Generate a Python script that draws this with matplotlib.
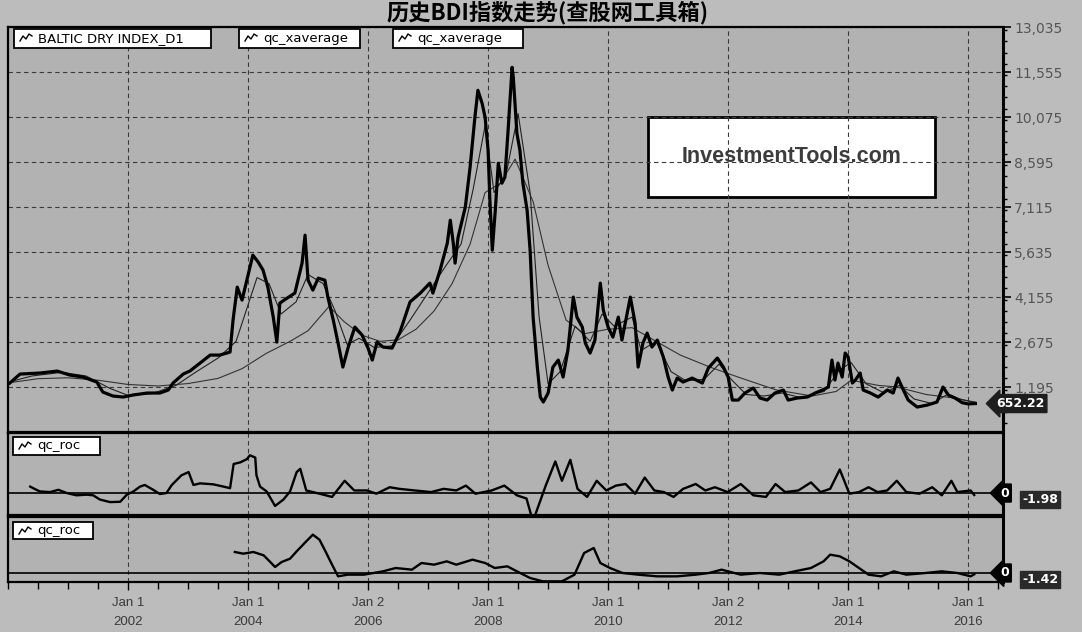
import matplotlib
matplotlib.use("Agg")
import matplotlib.pyplot as plt
import matplotlib.transforms as mtransforms
from matplotlib.patches import Rectangle
from matplotlib.lines import Line2D
from matplotlib.ticker import FuncFormatter, MultipleLocator

plt.rcParams['font.family'] = ['DejaVu Sans']

# Baltic Dry Index (decimal year, index value)
bdi_t = [2000.03, 2000.2, 2000.53, 2000.82, 2001.03, 2001.25, 2001.48, 2001.58, 2001.75, 2001.92,
         2002.08, 2002.32, 2002.53, 2002.67, 2002.75, 2002.92, 2003.03, 2003.2, 2003.37, 2003.53,
         2003.7, 2003.75, 2003.82, 2003.9, 2003.98, 2004.08, 2004.17, 2004.25, 2004.33, 2004.42,
         2004.48, 2004.53, 2004.65, 2004.78, 2004.9, 2004.95, 2005.0, 2005.08, 2005.17, 2005.28,
         2005.33, 2005.42, 2005.5, 2005.58, 2005.67, 2005.78, 2005.9, 2006.0, 2006.07, 2006.15,
         2006.25, 2006.4, 2006.53, 2006.7, 2006.87, 2007.03, 2007.08, 2007.2, 2007.32, 2007.37,
         2007.42, 2007.45, 2007.5, 2007.62, 2007.7, 2007.78, 2007.83, 2007.9, 2007.95, 2008.0,
         2008.03, 2008.07, 2008.12, 2008.17, 2008.23, 2008.28, 2008.33, 2008.4, 2008.42, 2008.48,
         2008.53, 2008.58, 2008.65, 2008.7, 2008.75, 2008.82, 2008.87, 2008.92, 2009.0, 2009.08,
         2009.17, 2009.25, 2009.33, 2009.42, 2009.48, 2009.57, 2009.62, 2009.7, 2009.78, 2009.87,
         2009.92, 2010.0, 2010.08, 2010.17, 2010.23, 2010.37, 2010.45, 2010.5, 2010.58, 2010.65,
         2010.73, 2010.82, 2010.92, 2011.0, 2011.07, 2011.15, 2011.25, 2011.4, 2011.57, 2011.67,
         2011.82, 2011.92, 2012.0, 2012.07, 2012.17, 2012.28, 2012.42, 2012.53, 2012.65, 2012.78,
         2012.92, 2013.0, 2013.15, 2013.32, 2013.45, 2013.57, 2013.67, 2013.73, 2013.78, 2013.83,
         2013.9, 2013.95, 2014.0, 2014.07, 2014.12, 2014.2, 2014.25, 2014.37, 2014.5, 2014.65,
         2014.75, 2014.83, 2014.92, 2015.0, 2015.15, 2015.32, 2015.48, 2015.58, 2015.67, 2015.78,
         2015.9, 2016.0, 2016.12]
bdi_v = [1327, 1623, 1656, 1721, 1590, 1524, 1360, 1030, 899, 866,
         932, 998, 998, 1096, 1327, 1623, 1721, 1985, 2248, 2248,
         2347, 3400, 4485, 4057, 4715, 5538, 5307, 5044, 4485, 3498,
         2675, 3959, 4123, 4288, 5275, 6196, 4715, 4386, 4781, 4715,
         4156, 3400, 2643, 1853, 2511, 3169, 2906, 2478, 2083, 2675,
         2511, 2478, 3000, 4000, 4288, 4617, 4288, 5044, 5933, 6689,
         5933, 5275, 6130, 7117, 8433, 10078, 10966, 10538, 10078, 8992,
         7347, 5702, 7018, 8564, 7907, 8104, 9552, 11723, 11394, 9552,
         8992, 7907, 7018, 5702, 3498, 1853, 866, 702, 998, 1853,
         2083, 1524, 2412, 4156, 3498, 3169, 2643, 2314, 2741, 4617,
         3728, 3169, 2840, 3498, 2741, 4156, 3300, 1853, 2643, 2972,
         2511, 2741, 2182, 1524, 1096, 1491, 1360, 1491, 1327, 1820,
         2149, 1853, 1524, 767, 767, 998, 1162, 833, 767, 998,
         1096, 767, 833, 866, 998, 1096, 1195, 2083, 1425, 1985,
         1524, 2314, 2182, 1327, 1425, 1656, 1096, 998, 866, 1096,
         998, 1491, 1096, 767, 537, 603, 702, 1195, 932, 833,
         680, 640, 652]

# faster qc_xaverage
fast_t = [2000.0, 2000.4, 2000.9, 2001.3, 2001.7, 2002.0, 2002.4, 2002.8, 2003.1, 2003.5,
          2003.8, 2004.0, 2004.15, 2004.35, 2004.55, 2004.8, 2005.0, 2005.25, 2005.45, 2005.65,
          2005.85, 2006.1, 2006.4, 2006.7, 2007.0, 2007.3, 2007.55, 2007.75, 2007.95, 2008.1,
          2008.3, 2008.5, 2008.7, 2008.85, 2009.0, 2009.2, 2009.45, 2009.7, 2009.9, 2010.1,
          2010.4, 2010.55, 2010.8, 2011.05, 2011.3, 2011.6, 2011.85, 2012.05, 2012.3, 2012.6,
          2012.9, 2013.2, 2013.6, 2013.85, 2014.05, 2014.3, 2014.6, 2014.85, 2015.1, 2015.4,
          2015.65, 2015.9, 2016.12]
fast_v = [1350, 1560, 1680, 1560, 1150, 920, 980, 1250, 1650, 2150,
          2700, 3900, 4800, 4600, 3600, 4000, 4900, 4600, 3700, 2600,
          2800, 2500, 2550, 3400, 4300, 5200, 5900, 7700, 9800, 7600,
          8200, 10200, 7600, 3500, 1300, 1700, 3200, 2700, 3600, 3200,
          3500, 2400, 2700, 1700, 1400, 1450, 1950, 1450, 950, 900,
          1000, 850, 1050, 1750, 2000, 1300, 1000, 1250, 800, 650,
          950, 780, 680]

# slower qc_xaverage
slow_t = [2000.0, 2000.5, 2001.0, 2001.5, 2002.0, 2002.5, 2003.0, 2003.5, 2003.9, 2004.3,
          2004.7, 2005.0, 2005.35, 2005.6, 2005.9, 2006.2, 2006.5, 2006.8, 2007.1, 2007.4,
          2007.7, 2007.95, 2008.2, 2008.45, 2008.75, 2009.0, 2009.3, 2009.6, 2010.0, 2010.4,
          2010.8, 2011.2, 2011.7, 2012.2, 2012.8, 2013.4, 2013.8, 2014.05, 2014.5, 2014.8,
          2015.3, 2015.7, 2016.12]
slow_v = [1330, 1470, 1500, 1420, 1280, 1230, 1310, 1480, 1800, 2300,
          2700, 3050, 3850, 3350, 2900, 2700, 2750, 3100, 3700, 4600,
          5900, 7600, 7900, 8700, 7300, 5200, 3400, 2950, 3100, 3150,
          2700, 2250, 1850, 1500, 1100, 900, 1050, 1420, 1250, 1200,
          950, 850, 700]

# qc_roc (short)
roc1_t = [2000.37, 2000.42, 2000.53, 2000.70, 2000.84, 2000.98, 2001.14, 2001.31, 2001.42, 2001.53,
          2001.70, 2001.87, 2001.98, 2002.09, 2002.20, 2002.28, 2002.42, 2002.53, 2002.64, 2002.73,
          2002.89, 2003.01, 2003.09, 2003.20, 2003.42, 2003.59, 2003.70, 2003.76, 2003.87, 2003.98,
          2004.03, 2004.12, 2004.14, 2004.20, 2004.31, 2004.45, 2004.59, 2004.70, 2004.81, 2004.87,
          2004.97, 2005.19, 2005.40, 2005.61, 2005.77, 2005.98, 2006.14, 2006.36, 2006.52, 2006.78,
          2007.05, 2007.26, 2007.47, 2007.63, 2007.79, 2008.06, 2008.27, 2008.48, 2008.64, 2008.75,
          2008.80, 2008.96, 2009.12, 2009.23, 2009.37, 2009.49, 2009.65, 2009.81, 2009.97, 2010.13,
          2010.29, 2010.45, 2010.61, 2010.77, 2010.93, 2011.09, 2011.25, 2011.46, 2011.62, 2011.78,
          2011.99, 2012.21, 2012.42, 2012.63, 2012.79, 2012.95, 2013.17, 2013.38, 2013.54, 2013.70,
          2013.86, 2014.02, 2014.18, 2014.34, 2014.49, 2014.65, 2014.81, 2014.97, 2015.19, 2015.40,
          2015.56, 2015.72, 2015.82, 2016.04, 2016.10]
roc1_v = [20, 15, 5, 3, 10, 0, -7, -5, -7, -20,
          -28, -27, -5, 5, 20, 25, 10, -3, 0, 25,
          55, 65, 25, 30, 27, 20, 15, 90, 95, 105,
          117, 110, 55, 20, 5, -40, -20, 5, 65, 75,
          8, -2, -12, 38, 8, 8, -2, 18, 13, 8,
          3, 13, 8, 23, -2, 8, 23, -7, -17, -90,
          -60, 23, 98, 38, 103, 13, -12, 38, 8, 23,
          28, -2, 48, 8, 3, -12, 13, 28, 8, 18,
          3, 28, -7, -12, 28, 3, 8, 33, 3, 13,
          73, -2, 3, 18, 3, 8, 38, 3, -2, 18,
          -7, 38, 3, 8, -6]

# qc_roc (long)
roc2_t = [2003.78, 2003.92, 2004.09, 2004.26, 2004.37, 2004.45, 2004.56, 2004.70, 2004.81, 2004.97,
          2005.08, 2005.19, 2005.29, 2005.40, 2005.50, 2005.66, 2005.93, 2006.25, 2006.46, 2006.73,
          2006.89, 2007.10, 2007.31, 2007.47, 2007.74, 2007.95, 2008.11, 2008.32, 2008.48, 2008.70,
          2008.91, 2009.23, 2009.44, 2009.60, 2009.76, 2009.87, 2010.03, 2010.24, 2010.50, 2010.82,
          2011.15, 2011.46, 2011.68, 2011.89, 2012.21, 2012.53, 2012.85, 2013.11, 2013.38, 2013.59,
          2013.70, 2013.86, 2014.02, 2014.18, 2014.34, 2014.55, 2014.76, 2014.97, 2015.29, 2015.56,
          2015.82, 2016.04, 2016.10]
roc2_v = [63, 58, 63, 53, 33, 18, 33, 43, 65, 95,
          115, 100, 65, 25, -10, -5, -5, 5, 15, 10,
          30, 25, 35, 25, 40, 30, 15, 20, 5, -15,
          -25, -25, -5, 60, 75, 30, 15, 0, -5, -10,
          -10, -5, 0, 10, -5, 0, -5, 5, 15, 35,
          55, 50, 35, 15, -5, -10, 5, -5, 0, 5,
          0, -10, -4]

year_ticks = [2002, 2004, 2006, 2008, 2010, 2012, 2014, 2016]
year_labels = ['Jan 1\n2002', 'Jan 1\n2004', 'Jan 2\n2006', 'Jan 1\n2008',
               'Jan 1\n2010', 'Jan 2\n2012', 'Jan 1\n2014', 'Jan 1\n2016']
price_ticks = [1195, 2675, 4155, 5635, 7115, 8595, 10075, 11555, 13035]

W, H = 1082, 632
bg = '#bcbcbc'
panel_bg = '#b2b2b2'
fig = plt.figure(figsize=(W / 100, H / 100), dpi=100, facecolor=bg)


def px_box(x0, y0, x1, y1):
    # pixel box (top-left origin) -> figure fraction rect
    return [x0 / W, 1 - y1 / H, (x1 - x0) / W, (y1 - y0) / H]


ax1 = fig.add_axes(px_box(8, 27, 1003, 432))
ax2 = fig.add_axes(px_box(8, 433, 1003, 515), sharex=ax1)
ax3 = fig.add_axes(px_box(8, 517, 1003, 582), sharex=ax1)

for ax in (ax1, ax2, ax3):
    ax.set_facecolor(panel_bg)
    ax.set_axisbelow('line')
    for s in ax.spines.values():
        s.set_linewidth(1.6)
    ax.spines['right'].set_linewidth(2.2)
    ax.set_xticks(year_ticks)
    ax.xaxis.grid(True, color='#3a3a3a', linestyle=(0, (4, 3)), linewidth=0.8)
    ax.xaxis.set_minor_locator(MultipleLocator(0.5))

ax1.set_xlim(2000.0, 2016.58)

# main panel
ax1.plot(slow_t, slow_v, color='#333333', linewidth=0.8, zorder=3)
ax1.plot(fast_t, fast_v, color='#222222', linewidth=0.8, zorder=3)
ax1.plot(bdi_t, bdi_v, color='black', linewidth=2.3, zorder=4)
ax1.set_ylim(-285, 13050)
ax1.set_yticks(price_ticks)
ax1.yaxis.set_minor_locator(MultipleLocator(370))
ax1.yaxis.tick_right()
ax1.yaxis.set_major_formatter(FuncFormatter(lambda v, p: f'{int(v):,}'))
ax1.tick_params(axis='y', which='major', direction='out', length=6, width=1.2,
                labelsize=10, labelcolor='#555555', pad=2)
ax1.tick_params(axis='y', which='minor', direction='out', length=3, width=1)
ax1.yaxis.grid(True, color='#3a3a3a', linestyle=(0, (4, 3)), linewidth=0.8)
ax1.tick_params(axis='x', which='both', bottom=False, labelbottom=False)

# watermark box (grid runs over it)
x0, y0 = (648 - 8) / 995, 1 - (197 - 27) / 405
ax1.add_patch(Rectangle((x0, y0), (935 - 648) / 995, (197 - 117) / 405,
                        transform=ax1.transAxes, facecolor='white', edgecolor='black',
                        linewidth=2, zorder=1))
ax1.text(x0 + (935 - 648) / 995 / 2, y0 + (197 - 117) / 405 / 2, 'InvestmentTools.com',
         transform=ax1.transAxes, ha='center', va='center', fontsize=15.5,
         fontweight='bold', color='#3c3c3c', zorder=1.2,
         family=['Liberation Sans', 'DejaVu Sans'])

# roc panels
for ax, t, v, lo, hi in ((ax2, roc1_t, roc1_v, -68, 186), (ax3, roc2_t, roc2_v, -27, 168)):
    ax.plot(t, v, color='black', linewidth=1.7, zorder=4)
    ax.axhline(0, color='black', linewidth=1.2, zorder=3)
    ax.set_ylim(lo, hi)
    ax.set_yticks([])
    ax.tick_params(axis='y', which='both', right=False, left=False)

ax2.tick_params(axis='x', which='both', bottom=False, labelbottom=False)
ax3.set_xticklabels(year_labels)
ax3.tick_params(axis='x', which='major', direction='out', length=6, width=1,
                labelsize=9.5, labelcolor='#3a3a3a', pad=5)
ax3.tick_params(axis='x', which='minor', direction='out', length=5, width=1)
for lbl in ax3.get_xticklabels():
    lbl.set_linespacing(1.7)
    lbl.set_family(['Liberation Sans', 'DejaVu Sans'])

# right side value flags
tr1 = mtransforms.blended_transform_factory(ax1.transAxes, ax1.transData)
ax1.text(0.993, 652, '652.22', transform=tr1, ha='left', va='center', fontsize=9,
         fontweight='bold', color='white', zorder=6, clip_on=False,
         bbox=dict(boxstyle='larrow,pad=0.2', facecolor='#1e1e1e', edgecolor='#1e1e1e'))
for ax, txt in ((ax2, '-1.98'), (ax3, '-1.42')):
    tr = mtransforms.blended_transform_factory(ax.transAxes, ax.transData)
    ax.text(0.997, 0, '0', transform=tr, ha='left', va='center', fontsize=9,
            fontweight='bold', color='white', zorder=6, clip_on=False,
            bbox=dict(boxstyle='larrow,pad=0.2', facecolor='black', edgecolor='black'))
    ax.text(1.019, 0, txt, transform=tr, ha='left', va='top', fontsize=9,
            fontweight='bold', color='white', zorder=5, clip_on=False,
            bbox=dict(boxstyle='square,pad=0.15', facecolor='#2a2a2a', edgecolor='#2a2a2a'))


def legend_box(x0, y0, x1, y1, label):
    fig.patches.append(Rectangle((x0 / W, 1 - y1 / H), (x1 - x0) / W, (y1 - y0) / H,
                                 transform=fig.transFigure, facecolor='white',
                                 edgecolor='black', linewidth=1.3, zorder=10))
    xs = [x0 + 6, x0 + 9, x0 + 12, x0 + 15, x0 + 18]
    ys = [y0 + 12, y0 + 7, y0 + 10, y0 + 5, y0 + 7]
    fig.lines.append(Line2D([x / W for x in xs], [1 - y / H for y in ys],
                            transform=fig.transFigure, color='black', linewidth=1, zorder=11))
    fig.text((x0 + 24) / W, 1 - (y0 + y1) / 2 / H, label, ha='left', va='center',
             fontsize=9.5, color='black', zorder=12)


legend_box(14, 29, 211, 48, 'BALTIC DRY INDEX_D1')
legend_box(239, 29, 360, 48, 'qc_xaverage')
legend_box(393, 29, 523, 48, 'qc_xaverage')
legend_box(13, 437, 100, 455, 'qc_roc')
legend_box(13, 522, 93, 539, 'qc_roc')

fig.text(548 / W, 1 - 13 / H, '历史BDI指数走势(查股网工具箱)', ha='center', va='center',
         fontsize=16, fontweight='bold', family=['Noto Sans CJK SC', 'DejaVu Sans'])

fig.savefig('out.png', dpi=100, facecolor=bg)
